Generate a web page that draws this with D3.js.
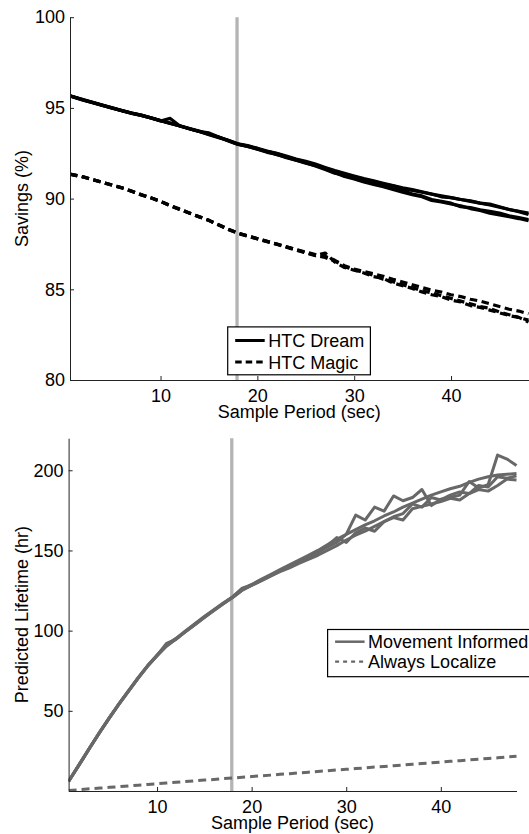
<!DOCTYPE html>
<html>
<head>
<meta charset="utf-8">
<script src="https://cdn.jsdelivr.net/npm/d3@7"></script>
<style>
  body { margin: 0; background: #fff; }
  text { font-family: "Liberation Sans", Arial, Helvetica, sans-serif; }
</style>
</head>
<body>
<div id="chart"></div>
<script>
// ---------------------------------------------------------------
// Savings and predicted lifetime vs. sample period
// ---------------------------------------------------------------

// sample periods (sec), shared by every run
const periods = [0.65, 2, 3, 4, 5, 6, 7, 8, 9, 10, 11, 12, 13, 14, 15, 16, 17, 18, 19, 20,
  21, 22, 23, 24, 25, 26, 27, 28, 29, 30, 31, 32, 33, 34, 35, 36, 37, 38, 39, 40,
  41, 42, 43, 44, 45, 46, 47, 48];

// chosen sample period (gray marker)
const markerPeriod = 17.9;

// Savings (%) - HTC Dream runs
const dream1 = [95.67, 95.45, 95.3, 95.15, 95.0, 94.85, 94.72, 94.6, 94.45, 94.3, 94.15, 94.0, 93.85, 93.7, 93.55, 93.38, 93.2, 93.0, 92.9, 92.75,
  92.6, 92.48, 92.3, 92.15, 92.02, 91.86, 91.68, 91.5, 91.35, 91.2, 91.05, 90.95, 90.8, 90.7, 90.55, 90.45, 90.35, 90.25, 90.1, 90.05,
  89.95, 89.85, 89.75, 89.7, 89.55, 89.4, 89.3, 89.2];
const dream2 = [95.65, 95.43, 95.28, 95.13, 94.98, 94.84, 94.7, 94.58, 94.44, 94.28, 94.42, 94.0, 93.84, 93.7, 93.62, 93.4, 93.18, 92.98, 92.88, 92.72,
  92.55, 92.45, 92.25, 92.12, 91.98, 91.8, 91.6, 91.4, 91.3, 91.12, 90.95, 90.9, 90.7, 90.55, 90.45, 90.25, 90.15, 89.95, 89.85, 89.75,
  89.55, 89.5, 89.38, 89.3, 89.2, 89.05, 88.95, 88.85];
const dream3 = [95.66, 95.44, 95.29, 95.14, 94.99, 94.85, 94.71, 94.59, 94.45, 94.29, 94.14, 94.0, 93.85, 93.7, 93.52, 93.36, 93.2, 93.0, 92.88, 92.74,
  92.58, 92.42, 92.28, 92.12, 91.95, 91.82, 91.65, 91.42, 91.22, 91.08, 90.92, 90.78, 90.65, 90.5, 90.35, 90.22, 90.1, 89.9, 89.82, 89.7,
  89.6, 89.45, 89.35, 89.2, 89.1, 89.0, 88.9, 88.78];
const dream4 = [95.67, 95.46, 95.31, 95.16, 95.01, 94.86, 94.72, 94.6, 94.46, 94.31, 94.16, 94.02, 93.86, 93.72, 93.56, 93.4, 93.22, 93.02, 92.92, 92.78,
  92.62, 92.5, 92.35, 92.18, 92.05, 91.9, 91.72, 91.55, 91.4, 91.25, 91.1, 90.98, 90.85, 90.72, 90.6, 90.5, 90.38, 90.25, 90.15, 90.05,
  89.95, 89.88, 89.75, 89.65, 89.52, 89.4, 89.28, 89.12];

// Savings (%) - HTC Magic runs
const magic1 = [91.35, 91.2, 91.05, 90.9, 90.75, 90.6, 90.42, 90.22, 90.05, 89.85, 89.62, 89.42, 89.2, 89.0, 88.8, 88.56, 88.32, 88.1, 87.95, 87.8,
  87.65, 87.5, 87.35, 87.2, 87.05, 86.92, 86.82, 86.6, 86.3, 86.12, 85.98, 85.85, 85.72, 85.55, 85.4, 85.25, 85.1, 84.95, 84.85, 84.7,
  84.6, 84.45, 84.35, 84.2, 84.05, 83.9, 83.8, 83.65];
const magic2 = [91.34, 91.19, 91.04, 90.89, 90.74, 90.59, 90.41, 90.21, 90.04, 89.84, 89.61, 89.4, 89.19, 88.99, 88.79, 88.55, 88.3, 88.08, 87.93, 87.78,
  87.62, 87.48, 87.32, 87.16, 87.0, 86.85, 87.0, 86.5, 86.2, 86.05, 85.9, 85.7, 85.6, 85.35, 85.2, 85.05, 84.85, 84.7, 84.6, 84.4,
  84.3, 84.1, 84.0, 83.85, 83.7, 83.55, 83.45, 83.3];
const magic3 = [91.35, 91.2, 91.05, 90.9, 90.75, 90.6, 90.4, 90.2, 90.05, 89.85, 89.6, 89.4, 89.2, 89.0, 88.8, 88.54, 88.3, 88.1, 87.94, 87.79,
  87.64, 87.49, 87.34, 87.18, 87.02, 86.88, 86.75, 86.55, 86.25, 86.08, 85.92, 85.78, 85.55, 85.42, 85.25, 85.1, 84.92, 84.8, 84.65, 84.5,
  84.35, 84.2, 84.05, 83.95, 83.75, 83.6, 83.45, 83.2];

// Predicted lifetime (hr) - Movement Informed runs
const move1 = [6, 18.6, 28, 37.2, 46, 54.5, 62.5, 70.5, 78, 84.5, 92, 94.5, 99.5, 104, 108.5, 112.8, 117, 121, 126.5, 128.5,
  131.5, 134.5, 137.5, 140.5, 143.5, 146, 149, 152, 155, 160, 172, 169, 177, 174.5, 184, 181, 183, 188, 178, 182,
  183, 184.5, 193, 189, 191, 209.5, 207, 203];
const move2 = [6.2, 18.8, 28.2, 37.4, 46.2, 54.7, 62.7, 70.7, 78.2, 84.8, 91, 95.2, 99.8, 104.3, 108.8, 113, 117.3, 121.2, 125.8, 128.8,
  132, 135, 138, 141, 144, 147, 150, 153.5, 157, 160, 163, 166, 168.5, 171.5, 174, 177, 179.5, 182, 184.5, 186.5,
  188.5, 190, 192.5, 194.5, 196, 197, 197.5, 198];
const move3 = [5.9, 18.5, 27.9, 37.1, 45.9, 54.4, 62.4, 70.4, 77.9, 84.4, 90.6, 94.8, 99.4, 103.8, 108.3, 112.6, 116.8, 120.8, 125.3, 128.3,
  131.2, 134.2, 137.2, 139.8, 142.5, 145.2, 148.5, 153, 158, 155, 161, 164, 162, 168, 171, 173, 179, 177, 183, 181.5,
  184.5, 186.5, 185.5, 190.5, 189.5, 196, 195, 196.5];
const move4 = [6, 18.5, 27.9, 37, 45.8, 54.3, 62.3, 70.3, 77.8, 84.3, 90.3, 94.7, 99.2, 103.7, 108.2, 112.5, 116.7, 120.7, 125.2, 128.2,
  131, 134, 136.8, 139.2, 142, 144.5, 147, 150, 153, 156.5, 159.5, 162, 165, 168, 170.5, 169, 176, 177.5, 179, 180.5,
  182.5, 181.5, 185.5, 188, 187, 190.5, 194.5, 194];

// Predicted lifetime (hr) - Always Localize
const alwaysLocalize = [0.3, 0.9, 1.4, 1.8, 2.3, 2.7, 3.2, 3.6, 4.1, 4.5, 5.0, 5.4, 5.9, 6.3, 6.8, 7.2, 7.7, 8.1, 8.6, 9.0,
  9.5, 9.9, 10.4, 10.8, 11.3, 11.7, 12.2, 12.6, 13.1, 13.5, 14.0, 14.4, 14.9, 15.3, 15.8, 16.2, 16.7, 17.1, 17.6, 18.0,
  18.5, 18.9, 19.4, 19.8, 20.3, 20.7, 21.2, 21.6];

// ticks
const xTicks = [10, 20, 30, 40];
const savingsTicks = [80, 85, 90, 95, 100];
const lifetimeTicks = [50, 100, 150, 200];

const W = 529, H = 834;
const fontSize = 18;

const svg = d3.select("#chart").append("svg")
  .attr("width", W)
  .attr("height", H);

function drawPanel(opt) {
  const x = d3.scaleLinear().domain([0.65, 48]).range([opt.left, opt.right]);
  const y = d3.scaleLinear().domain(opt.yDomain).range([opt.bottom, opt.top]);
  const g = svg.append("g");

  g.append("clipPath").attr("id", opt.id + "-clip")
    .append("rect")
    .attr("x", opt.left)
    .attr("y", opt.top - 6)
    .attr("width", opt.right - opt.left + 2)
    .attr("height", opt.bottom - opt.top + 12);

  // marker line for the chosen period
  g.append("line")
    .attr("x1", x(markerPeriod)).attr("x2", x(markerPeriod))
    .attr("y1", opt.top).attr("y2", opt.bottom)
    .attr("stroke", "#b4b4b4")
    .attr("stroke-width", 3.3);

  const line = d3.line()
    .x((d, i) => x(periods[i]))
    .y(d => y(d));

  const plot = g.append("g").attr("clip-path", `url(#${opt.id}-clip)`);
  opt.series.forEach(s => {
    plot.append("path")
      .datum(s.values)
      .attr("d", line)
      .attr("fill", "none")
      .attr("stroke", s.color)
      .attr("stroke-width", s.width)
      .attr("stroke-dasharray", s.dash || null)
      .attr("stroke-linejoin", "round");
  });

  // x axis (ticks pointing inward)
  const gx = g.append("g")
    .attr("transform", `translate(0,${opt.bottom})`)
    .call(d3.axisBottom(x).tickValues(xTicks).tickSize(-4).tickSizeOuter(0).tickPadding(9.5));
  // y axis
  const gy = g.append("g")
    .attr("transform", `translate(${opt.left},0)`)
    .call(d3.axisLeft(y).tickValues(opt.yTicks).tickSize(-4).tickSizeOuter(0).tickPadding(5));

  [gx, gy].forEach(a => {
    a.attr("font-size", fontSize)
      .attr("font-family", "'Liberation Sans', Arial, sans-serif")
      .style("color", "#222");
    a.selectAll("text").attr("fill", "#000");
  });

  // axis labels
  g.append("text")
    .attr("x", (opt.left + opt.right) / 2)
    .attr("y", opt.bottom + 38)
    .attr("text-anchor", "middle")
    .attr("font-size", fontSize)
    .text("Sample Period (sec)");

  g.append("text")
    .attr("transform", `translate(27.5,${(opt.top + opt.bottom) / 2}) rotate(-90)`)
    .attr("text-anchor", "middle")
    .attr("font-size", fontSize)
    .text(opt.yLabel);

  // legend
  const lg = g.append("g");
  lg.append("rect")
    .attr("x", opt.legend.x).attr("y", opt.legend.y)
    .attr("width", opt.legend.w).attr("height", opt.legend.h)
    .attr("fill", "#fff")
    .attr("stroke", "#000")
    .attr("stroke-width", 1.2);
  opt.legend.items.forEach((it, i) => {
    const ly = opt.legend.y + opt.legend.first + i * opt.legend.step;
    lg.append("line")
      .attr("x1", opt.legend.x + 7.5).attr("x2", opt.legend.x + 37)
      .attr("y1", ly).attr("y2", ly)
      .attr("stroke", it.color)
      .attr("stroke-width", it.width)
      .attr("stroke-dasharray", it.dash || null);
    lg.append("text")
      .attr("x", opt.legend.x + 40.5)
      .attr("y", ly + 6.6)
      .attr("font-size", fontSize)
      .text(it.label);
  });
}

// top panel: savings
drawPanel({
  id: "savings",
  left: 70, right: 528.5, top: 17.2, bottom: 380,
  yDomain: [80, 100],
  yTicks: savingsTicks,
  yLabel: "Savings (%)",
  series: [
    {values: dream1, color: "#000", width: 3.2},
    {values: dream2, color: "#000", width: 3.2},
    {values: dream3, color: "#000", width: 3.2},
    {values: dream4, color: "#000", width: 3.2},
    {values: magic1, color: "#000", width: 3.2, dash: "7.5,4.5"},
    {values: magic2, color: "#000", width: 3.2, dash: "7.5,4.5"},
    {values: magic3, color: "#000", width: 3.2, dash: "7.5,4.5"}
  ],
  legend: {
    x: 227.7, y: 326.9, w: 142.7, h: 47.9, first: 13.6, step: 21.5,
    items: [
      {label: "HTC Dream", color: "#000", width: 3},
      {label: "HTC Magic", color: "#000", width: 3, dash: "6.5,4"}
    ]
  }
});

// bottom panel: predicted lifetime
drawPanel({
  id: "lifetime",
  left: 68.6, right: 516.5, top: 438.2, bottom: 791,
  yDomain: [0, 220],
  yTicks: lifetimeTicks,
  yLabel: "Predicted Lifetime (hr)",
  series: [
    {values: alwaysLocalize, color: "#686868", width: 3, dash: "8,5"},
    {values: move1, color: "#686868", width: 3},
    {values: move2, color: "#686868", width: 3},
    {values: move3, color: "#686868", width: 3},
    {values: move4, color: "#686868", width: 3}
  ],
  legend: {
    x: 327.6, y: 629.5, w: 215, h: 47.2, first: 12.2, step: 20,
    items: [
      {label: "Movement Informed", color: "#686868", width: 2.5},
      {label: "Always Localize", color: "#686868", width: 2.2, dash: "4,4"}
    ]
  }
});
</script>
</body>
</html>
